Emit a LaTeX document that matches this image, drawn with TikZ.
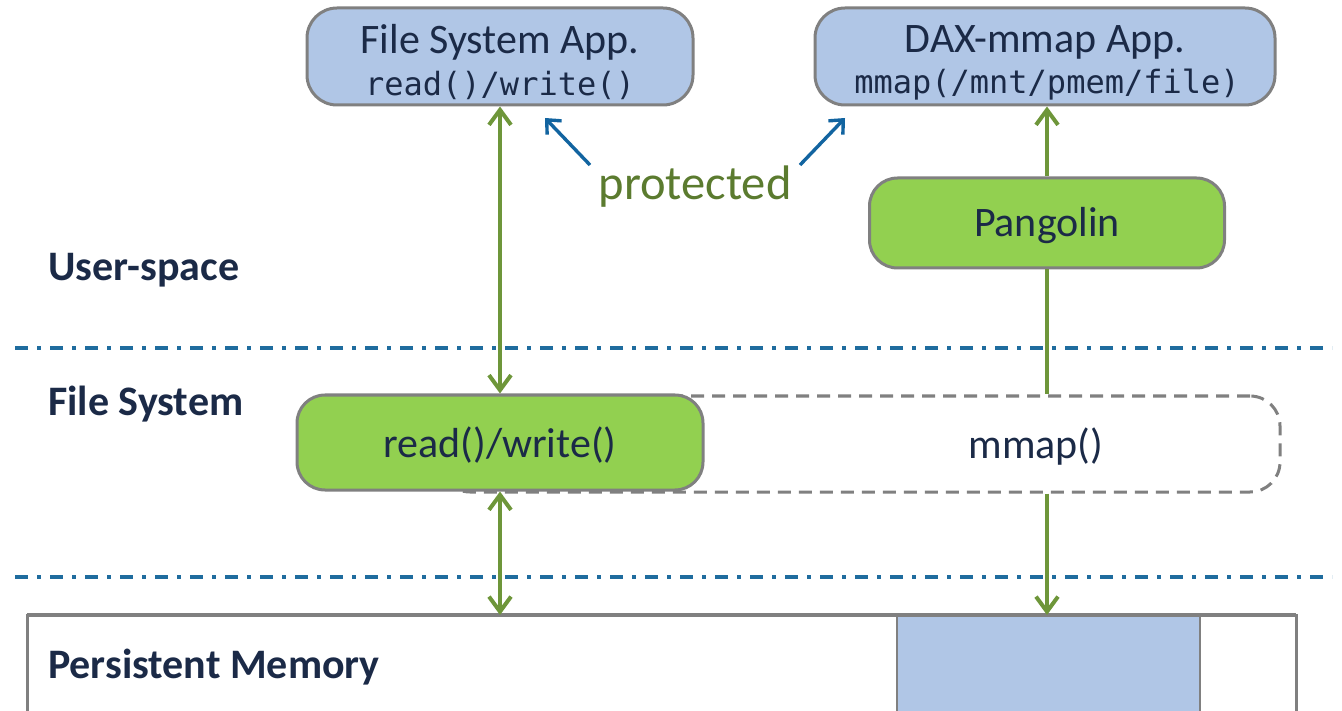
\documentclass[tikz,border=0pt]{standalone}
\usepackage{fontspec}
\setmainfont{Carlito}
\newfontfamily\codefont{DejaVu Sans Mono}
\usetikzlibrary{arrows.meta}
\definecolor{appblue}{HTML}{B0C6E6}
\definecolor{boxgreen}{HTML}{92D050}
\definecolor{edgegray}{HTML}{808080}
\definecolor{navy}{HTML}{1B2A47}
\definecolor{linkgreen}{HTML}{6E963A}
\definecolor{textgreen}{HTML}{5B7B2F}
\definecolor{pointblue}{HTML}{1264A0}
\definecolor{layerblue}{HTML}{1F6C9E}
\tikzset{
  appbox/.style={draw=edgegray, line width=3pt, fill=appblue, rounded corners=30pt,
    text=navy, inner sep=0pt},
  greenbox/.style={draw=edgegray, line width=3pt, fill=boxgreen, rounded corners=28pt,
    text=navy, inner sep=0pt},
  boxtext/.style={text=navy, inner sep=0pt, font=\fontsize{42}{48}\selectfont},
  appcall/.style={text=navy, inner sep=0pt, font=\codefont\fontsize{32}{38}\selectfont},
  layerlabel/.style={anchor=west, text=navy, inner sep=0pt, font=\bfseries\fontsize{42}{48}\selectfont},
  layerline/.style={draw=layerblue, line width=4pt, dash pattern=on 13pt off 9pt on 4pt off 9pt},
  flow/.style={draw=linkgreen, line width=4pt},
  flowtip/.style={flow, -{Straight Barb[length=15pt,width=22pt,line width=4pt]}},
  flowboth/.style={flow, {Straight Barb[length=15pt,width=22pt,line width=4pt]}-{Straight Barb[length=15pt,width=22pt,line width=4pt]}},
  pointer/.style={draw=pointblue, line width=3.4pt, -{Straight Barb[length=11pt,width=20pt,line width=3.4pt]}},
}
\begin{document}
\begin{tikzpicture}[x=1pt,y=-1pt]
\useasboundingbox (0,0) rectangle (1342,711);

% application boxes
\node[appbox, minimum width=386pt, minimum height=97pt] (fsapp) at (500,56.5) {};
\node[boxtext] (fstitle) at (500,42) {File System App.};
\node[appcall] (fscall) at (500,85) {read()/write()};
\node[appbox, minimum width=460pt, minimum height=97pt] (daxapp) at (1045,56.5) {};
\node[boxtext] (daxtitle) at (1045,42) {DAX-mmap App.};
\node[appcall] (daxcall) at (1047,85) {mmap(/mnt/pmem/file)};

% protection annotation
\node[text=textgreen, inner sep=0pt, font=\fontsize{48.5}{54}\selectfont] (prot) at (695,187) {protected};
\coordinate (protL) at (590,165);
\coordinate (protR) at (800,165);
\coordinate (tipL) at (545,118);
\coordinate (tipR) at (845,118);
\draw[pointer] (protL) -- (tipL);
\draw[pointer] (protR) -- (tipR);

% Pangolin
\node[greenbox, minimum width=355pt, minimum height=90pt] (pango) at (1047,223) {};
\node[boxtext] (pangotxt) at (1047,226) {Pangolin};

% layer labels and separators
\node[layerlabel] (lbluser) at (48,270) {User-space};
\node[layerlabel] (lblfs) at (48,404) {File System};
\coordinate (sep1a) at (15,348);
\coordinate (sep1b) at (1332,348);
\coordinate (sep2a) at (15,577);
\coordinate (sep2b) at (1332,577);
\draw[layerline] (sep1a) -- (sep1b);
\draw[layerline] (sep2a) -- (sep2b);

% file system paths
\node[draw=edgegray, line width=3pt, dash pattern=on 13pt off 8pt, rounded corners=30pt,
  minimum width=840pt, minimum height=96pt, inner sep=0pt] (mmapbox) at (860,444) {};
\node[boxtext] (mmaptxt) at (1036,447) {mmap()};
\node[greenbox, minimum width=406pt, minimum height=95pt] (rw) at (500,442.5) {};
\node[boxtext] (rwtxt) at (500,445) {read()/write()};

% persistent memory
\coordinate (memTL) at (27,615);
\coordinate (memTR) at (1296,615);
\coordinate (memBL) at (27,712);
\coordinate (memBR) at (1296,712);
\fill[appblue] (897,617) rectangle (1200,712);
\draw[edgegray, line width=2.5pt] (897,617) -- (897,712) (1200,617) -- (1200,712);
\draw[edgegray, line width=3pt] (memBL) -- (memTL) -- (memTR) -- (memBR);
\draw[edgegray, line width=4.5pt] (memTL) -- (memTR);
\node[layerlabel] (lblpm) at (48,667) {Persistent Memory};

% data paths
\draw[flowboth] (fsapp.south) -- (rw.north);
\draw[flowboth] (rw.south) -- (rw.south |- memTL);
\draw[flowtip] (pango.north) -- (pango.north |- daxapp.south);
\draw[flow] (pango.south) -- (pango.south |- mmapbox.north);
\draw[flowtip] (pango.south |- mmapbox.south) -- (pango.south |- memTL);
\end{tikzpicture}
\end{document}
